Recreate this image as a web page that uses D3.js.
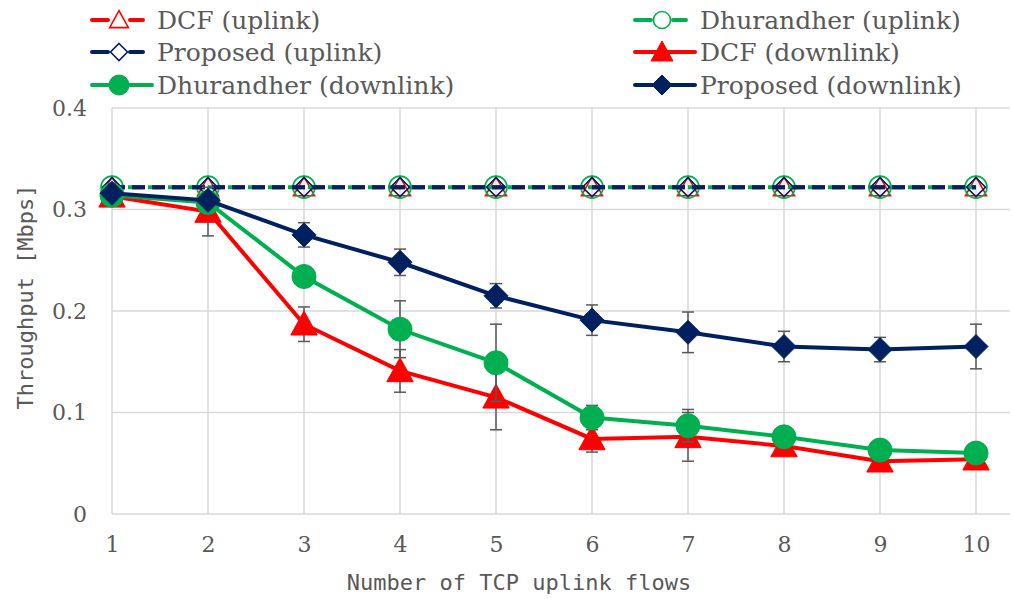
<!DOCTYPE html>
<html>
<head>
<meta charset="utf-8">
<script src="https://cdn.jsdelivr.net/npm/d3@7"></script>
<style>
  body { margin: 0; background: #fff; }
  text { fill: #595959; }
  .serif { font-family: "DejaVu Serif", serif; }
  .mono { font-family: "DejaVu Sans Mono", monospace; }
</style>
</head>
<body>
<script>
// data
let flows = [1, 2, 3, 4, 5, 6, 7, 8, 9, 10];
let yTicks = [0, 0.1, 0.2, 0.3, 0.4];

let dcfUp = [0.322, 0.322, 0.322, 0.322, 0.322, 0.322, 0.322, 0.322, 0.322, 0.322];
let dhuUp = [0.322, 0.322, 0.322, 0.322, 0.322, 0.322, 0.322, 0.322, 0.322, 0.322];
let propUp = [0.322, 0.322, 0.322, 0.322, 0.322, 0.322, 0.322, 0.322, 0.322, 0.322];

let dcfDown = [0.313, 0.298, 0.187, 0.141, 0.115, 0.074, 0.076, 0.067, 0.052, 0.054];
let dhuDown = [0.314, 0.307, 0.234, 0.182, 0.149, 0.095, 0.087, 0.076, 0.063, 0.060];
let propDown = [0.316, 0.309, 0.275, 0.248, 0.215, 0.191, 0.179, 0.165, 0.162, 0.165];

let dcfDownErr = [0, 0.024, 0.017, 0.021, 0.032, 0.013, 0.024, 0.004, 0.003, 0.003];
let dhuDownErr = [0, 0.004, 0.004, 0.028, 0.038, 0.012, 0.016, 0.004, 0.003, 0.003];
let propDownErr = [0.003, 0.004, 0.012, 0.013, 0.012, 0.015, 0.020, 0.015, 0.012, 0.022];

let RED = "#FF0000", GREEN = "#00B050", NAVY = "#002060";

let series = [
  {name: "DCF (uplink)", values: dcfUp, color: RED, dash: "13,7", offset: 0, marker: "triangle", open: true},
  {name: "Dhurandher (uplink)", values: dhuUp, color: GREEN, dash: "13,7", offset: 4, marker: "circle", open: true},
  {name: "Proposed (uplink)", values: propUp, color: NAVY, dash: "13,7", offset: 0, marker: "diamond", open: true},
  {name: "DCF (downlink)", values: dcfDown, err: dcfDownErr, color: RED, marker: "triangle", open: false},
  {name: "Dhurandher (downlink)", values: dhuDown, err: dhuDownErr, color: GREEN, marker: "circle", open: false},
  {name: "Proposed (downlink)", values: propDown, err: propDownErr, color: NAVY, marker: "diamond", open: false}
];

let svgWidth = 1013, svgHeight = 599;
let margin = {top: 108, left: 112, right: 3, bottom: 85};

let svg = d3.select("body").append("svg")
  .attr("width", svgWidth)
  .attr("height", svgHeight);

let x = d3.scaleLinear().domain([1, 10]).range([112, 976]);
let y = d3.scaleLinear().domain([0, 0.4]).range([514, 108]);
let plotRight = svgWidth - margin.right;

// grid
let grid = svg.append("g");
grid.selectAll("line.h").data(yTicks).enter().append("line")
  .attr("x1", x(1)).attr("x2", plotRight)
  .attr("y1", d => y(d)).attr("y2", d => y(d))
  .attr("stroke", "#D9D9D9").attr("stroke-width", 1.5);
grid.selectAll("line.v").data(flows).enter().append("line")
  .attr("x1", d => x(d)).attr("x2", d => x(d))
  .attr("y1", y(0)).attr("y2", y(0.4))
  .attr("stroke", "#D9D9D9").attr("stroke-width", 1.5);

// axes (labels only, Excel style)
let yAxis = d3.axisLeft(y).tickValues(yTicks).tickSize(0).tickPadding(0)
  .tickFormat(d => d === 0 ? "0" : d3.format(".1f")(d));
svg.append("g").attr("transform", "translate(87,0)").call(yAxis)
  .call(g => g.select(".domain").remove())
  .selectAll("text").attr("class", "serif").style("font-size", "22px").attr("fill", "#595959");

let xAxis = d3.axisBottom(x).tickValues(flows).tickSize(0).tickPadding(0).tickFormat(d3.format("d"));
svg.append("g").attr("transform", "translate(0,536)").call(xAxis)
  .call(g => g.select(".domain").remove())
  .selectAll("text").attr("class", "serif").style("font-size", "22px").attr("fill", "#595959");

svg.append("text").attr("class", "mono")
  .attr("x", 519).attr("y", 590)
  .attr("text-anchor", "middle").style("font-size", "22px")
  .text("Number of TCP uplink flows");

svg.append("text").attr("class", "mono")
  .attr("transform", "translate(33,297) rotate(-90)")
  .attr("text-anchor", "middle").style("font-size", "22px")
  .text("Throughput [Mbps]");

// markers
function markerPath(type, s) {
  if (type === "triangle") {
    return "M0," + (-s * 0.55) + "L" + (s * 0.55) + "," + (s * 0.45) + "L" + (-s * 0.55) + "," + (s * 0.45) + "Z";
  }
  if (type === "diamond") {
    return "M0," + (-s / 2) + "L" + (s / 2) + ",0L0," + (s / 2) + "L" + (-s / 2) + ",0Z";
  }
  return d3.arc()({innerRadius: 0, outerRadius: s / 2, startAngle: 0, endAngle: 2 * Math.PI});
}

function drawMarker(g, s, cx, cy, size) {
  g.append("path")
    .attr("d", markerPath(s.marker, size))
    .attr("transform", "translate(" + cx + "," + cy + ")")
    .attr("fill", s.open ? "#fff" : s.color)
    .attr("fill-opacity", s.open ? 0 : 1)
    .attr("stroke", s.color)
    .attr("stroke-width", s.open ? 1.6 : 1);
}

let line = d3.line().x((d, i) => x(flows[i])).y(d => y(d));
let plot = svg.append("g");

series.forEach(s => {
  let g = plot.append("g");
  g.append("path")
    .attr("d", line(s.values))
    .attr("fill", "none")
    .attr("stroke", s.color)
    .attr("stroke-width", 4)
    .attr("stroke-dasharray", s.dash || null)
    .attr("stroke-dashoffset", s.offset || 0);

  if (s.err) {
    s.values.forEach((v, i) => {
      let e = s.err[i];
      if (!e) return;
      let cx = x(flows[i]);
      let eg = g.append("g").attr("stroke", "#595959").attr("stroke-width", 1.5);
      eg.append("line").attr("x1", cx).attr("x2", cx).attr("y1", y(v - e)).attr("y2", y(v + e));
      eg.append("line").attr("x1", cx - 6).attr("x2", cx + 6).attr("y1", y(v - e)).attr("y2", y(v - e));
      eg.append("line").attr("x1", cx - 6).attr("x2", cx + 6).attr("y1", y(v + e)).attr("y2", y(v + e));
    });
  }

  s.values.forEach((v, i) => {
    let size = s.open ? (s.marker === "circle" ? 22 : 19) : 24;
    drawMarker(g, s, x(flows[i]), y(v), size);
  });
});

// legend
let legendRows = [20, 52, 85];
let legendCols = [{x1: 92, x2: 152, tx: 157}, {x1: 635, x2: 695, tx: 700}];
let legend = svg.append("g");
series.forEach((s, k) => {
  let order = [0, 2, 4, 1, 3, 5];
  let pos = order.indexOf(k);
  let col = legendCols[Math.floor(pos / 3)];
  let ry = legendRows[pos % 3];
  let lg = legend.append("g");
  let segs = s.dash ? [[col.x1, col.x1 + 16], [col.x1 + 38, col.x1 + 51]] : [[col.x1, col.x2]];
  segs.forEach(seg => {
    lg.append("line")
      .attr("x1", seg[0]).attr("x2", seg[1])
      .attr("y1", ry).attr("y2", ry)
      .attr("stroke", s.color).attr("stroke-width", 4)
      .attr("stroke-linecap", "round");
  });
  let size = s.open ? 17 : 20;
  drawMarker(lg, s, (col.x1 + col.x2) / 2 - 3, ry, size);
  lg.append("text").attr("class", "serif")
    .attr("x", col.tx).attr("y", ry)
    .attr("dy", "0.35em")
    .style("font-size", "25px")
    .text(s.name);
});
</script>
</body>
</html>
